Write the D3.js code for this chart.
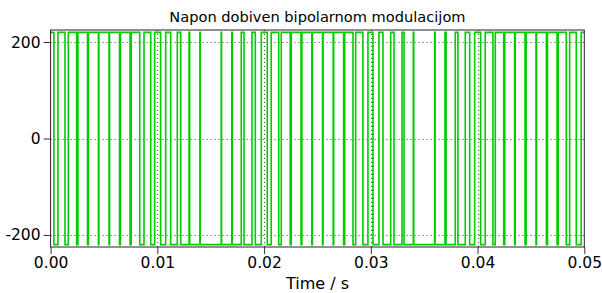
<!DOCTYPE html>
<html>
<head>
<meta charset="utf-8">
<script src="https://cdn.jsdelivr.net/npm/d3@7"></script>
<style>
  body { margin: 0; background: #fff; }
  svg { display: block; }
  text { font-family: "DejaVu Sans", sans-serif; fill: #000; }
</style>
</head>
<body>
<div id="chart"></div>
<script>
// Switching instants of the bipolar PWM voltage, in ms.
// The signal starts at +220 V and flips sign at every instant.
const switchTimesMs = [
    0.31, 0.69, 1.35, 1.66, 2.44, 2.56, 3.46, 3.54, 4.48, 4.52,
    5.475, 5.525, 6.46, 6.54, 7.445, 7.555, 8.35, 8.75, 9.38, 9.75,
    10.31, 10.78, 11.25, 11.87, 12.19, 12.97, 13.03, 13.985, 14.015, 15.985,
    16.015, 16.975, 17.025, 17.86, 18.12, 18.87, 19.18, 19.74, 20.30, 20.67,
    21.37, 21.61, 22.45, 22.55, 23.46, 23.54, 24.475, 24.525, 25.475, 25.525,
    26.475, 26.525, 27.45, 27.55, 28.33, 28.58, 29.26, 29.73, 30.20, 30.76,
    31.14, 31.86, 32.17, 32.92, 33.11, 33.98, 34.02, 35.98, 36.02, 36.95,
    37.05, 37.91, 38.16, 38.85, 39.26, 39.73, 40.29, 40.72, 41.44, 41.66,
    42.45, 42.55, 43.475, 43.525, 44.45, 44.55, 45.475, 45.525, 46.45, 46.55,
    47.45, 47.55, 48.31, 48.63, 49.25, 49.71
];
const levels = [220, -220];          // high / low voltage, V
const tEnd = 0.05;                   // s
const xTicks = [0, 0.01, 0.02, 0.03, 0.04, 0.05];
const yTicks = [-200, 0, 200];
const title = "Napon dobiven bipolarnom modulacijom";
const xLabel = "Time / s";

// Build step points
const points = [{ t: 0, v: levels[0] }];
switchTimesMs.forEach((ms, i) => {
    points.push({ t: ms / 1000, v: levels[(i + 1) % 2] });
});
points.push({ t: tEnd, v: points[points.length - 1].v });

const width = 602, height = 293;
const plotLeft = 50.6, plotRight = 584.3, plotTop = 30, plotBottom = 247;

const svg = d3.select("#chart").append("svg")
    .attr("width", width)
    .attr("height", height);

const x = d3.scaleLinear().domain([0, tEnd]).range([plotLeft, plotRight]);
const y = d3.scaleLinear().domain([-225, 225]).range([plotBottom, plotTop]);

// Grid (dotted)
const grid = svg.append("g").attr("stroke", "#444").attr("stroke-width", 1)
    .attr("stroke-dasharray", "1,3");
grid.selectAll(".gy").data(yTicks).enter().append("line")
    .attr("x1", plotLeft).attr("x2", plotRight)
    .attr("y1", d => Math.round(y(d)) + 0.5).attr("y2", d => Math.round(y(d)) + 0.5);
grid.selectAll(".gx").data(xTicks.slice(1, -1)).enter().append("line")
    .attr("y1", plotTop).attr("y2", plotBottom)
    .attr("x1", d => Math.round(x(d)) + 0.5).attr("x2", d => Math.round(x(d)) + 0.5);

// Signal
const line = d3.line()
    .x(d => x(d.t))
    .y(d => y(d.v))
    .curve(d3.curveStepAfter);

svg.append("path")
    .datum(points)
    .attr("fill", "none")
    .attr("stroke", "#00cc00")
    .attr("stroke-width", 1.6)
    .attr("d", line);

// Frame
svg.append("rect")
    .attr("x", plotLeft).attr("y", plotTop)
    .attr("width", plotRight - plotLeft).attr("height", plotBottom - plotTop)
    .attr("fill", "none").attr("stroke", "#222").attr("stroke-width", 1);

// Axes
const xAxis = svg.append("g")
    .attr("transform", `translate(0,${plotBottom})`)
    .call(d3.axisBottom(x).tickValues(xTicks).tickFormat(d3.format(".2f")).tickSize(7).tickPadding(3));
const yAxis = svg.append("g")
    .attr("transform", `translate(${plotLeft},0)`)
    .call(d3.axisLeft(y).tickValues(yTicks).tickFormat(d => String(d)).tickSize(7).tickPadding(3));

[xAxis, yAxis].forEach(g => {
    g.select(".domain").remove();
    g.selectAll(".tick line").attr("stroke", "#333");
    g.selectAll(".tick text").attr("font-size", 15.5)
        .attr("font-family", "DejaVu Sans, sans-serif").attr("fill", "#000");
});

// Title and axis label
svg.append("text")
    .attr("x", (plotLeft + plotRight) / 2).attr("y", 22)
    .attr("text-anchor", "middle")
    .attr("font-size", 14.6)
    .text(title);

svg.append("text")
    .attr("x", (plotLeft + plotRight) / 2).attr("y", 289)
    .attr("text-anchor", "middle")
    .attr("font-size", 16)
    .text(xLabel);
</script>
</body>
</html>
